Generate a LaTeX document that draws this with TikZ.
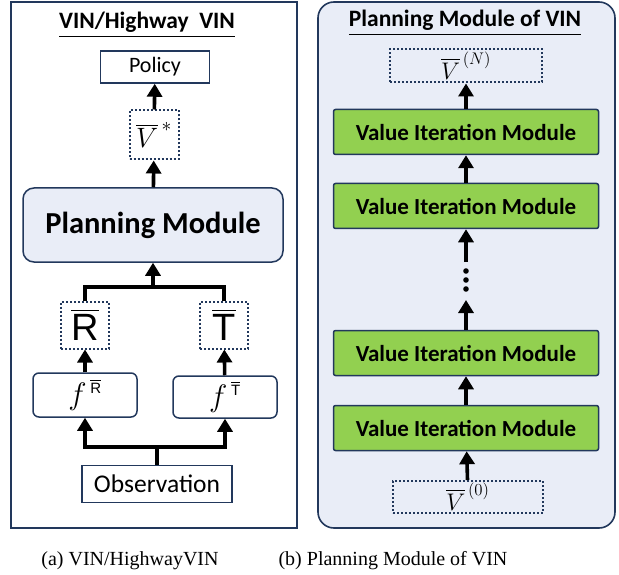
\RequirePackage{fix-cm}
\documentclass[tikz,border=0pt]{standalone}
\usepackage{amsmath}
\usepackage{fontspec}
\setmainfont{Carlito}
\setsansfont{Liberation Sans}
\newfontfamily\capfont{Liberation Serif}
\usetikzlibrary{arrows.meta}

\definecolor{navy}{RGB}{34,56,92}
\definecolor{panelbg}{RGB}{233,237,247}
\definecolor{vimgreen}{RGB}{146,208,80}

\newcommand{\supsf}[1]{\overline{\mbox{\fontsize{15}{15}\selectfont\sffamily #1}}}

\tikzset{
    plainbox/.style={draw=navy, line width=1.5pt, fill=white, inner sep=0pt},
    dotbox/.style={draw=navy, line width=2pt, dash pattern=on 2pt off 2pt, inner sep=0pt},
    fbox/.style={plainbox, rounded corners=6pt},
    vimbox/.style={draw=navy, line width=1.5pt, fill=vimgreen, rounded corners=2pt,
        minimum width=265pt, minimum height=45pt, inner sep=0pt,
        font=\fontsize{23}{25}\selectfont\bfseries},
    up/.style={line width=3.6pt, -{Triangle[width=15pt,length=13pt]}},
    link/.style={line width=3.6pt},
}

\begin{document}
\begin{tikzpicture}[x=1pt, y=-1pt]
    \useasboundingbox (0,0) rectangle (619,575);

    % left panel
    \draw[navy, line width=1.6pt] (11,2) rectangle (297,528);
    \node (ltitle) at (147,25) {\fontsize{23.5}{25}\selectfont\bfseries\underline{VIN/Highway\ \ VIN}};

    \node[plainbox, minimum width=109pt, minimum height=32pt, font=\fontsize{22}{24}\selectfont] (policy) at (155,67) {Policy};
    \node[dotbox, minimum width=49pt, minimum height=49pt] (vstar) at (154,135) {\fontsize{28}{30}\selectfont$\overline{V}^{\,*}$};
    \node[plainbox, rounded corners=11pt, fill=panelbg, minimum width=260pt, minimum height=74pt,
          font=\fontsize{30.5}{32}\selectfont\bfseries] (plan) at (153,225) {Planning Module};

    \node[dotbox, minimum width=48pt, minimum height=47pt] (rbar) at (85,325) {\fontsize{38}{40}\selectfont\sffamily$\overline{\mbox{R}}$};
    \node[dotbox, minimum width=48pt, minimum height=47pt] (tbar) at (224,325) {\fontsize{38}{40}\selectfont\sffamily$\overline{\mbox{T}}$};

    \node[fbox, minimum width=104pt, minimum height=44pt] (fr) at (85,395) {\fontsize{31}{33}\selectfont$f^{\,\supsf{R}}$};
    \node[fbox, minimum width=104pt, minimum height=42pt] (ft) at (225,397) {\fontsize{31}{33}\selectfont$f^{\,\supsf{T}}$};

    \node[plainbox, minimum width=150pt, minimum height=37pt, font=\fontsize{25.5}{27}\selectfont] (obs) at (157,484) {Observation};

    \coordinate (merge) at (153,287);
    \coordinate (split) at (157,447);

    \draw[up] (vstar) -- (policy);
    \draw[up] (plan) -- (vstar);
    \draw[link] (rbar.north) |- (merge) -| (tbar.north);
    \draw[up] (merge) -- (plan.south);
    \draw[up] (fr) -- (rbar);
    \draw[up] (ft) -- (tbar);
    \draw[link] (obs.north) -- (split);
    \draw[up] (split) -| (fr.south);
    \draw[up] (split) -| (ft.south);

    % right panel
    \draw[navy, line width=1.6pt, fill=panelbg, rounded corners=16pt] (318,2) rectangle (615,528);
    \node (rtitle) at (465,23) {\fontsize{23.5}{25}\selectfont\bfseries\underline{Planning Module of VIN}};

    \node[dotbox, minimum width=152pt, minimum height=33pt] (vn) at (466,66) {\fontsize{24}{26}\selectfont$\overline{V}^{\,(N)}$};
    \node[vimbox] (vim1) at (466,132) {Value Iteration Module};
    \node[vimbox] (vim2) at (466,206) {Value Iteration Module};
    \node[vimbox] (vim3) at (466,353) {Value Iteration Module};
    \node[vimbox] (vim4) at (466,428) {Value Iteration Module};
    \node[dotbox, minimum width=150pt, minimum height=32pt] (v0) at (468,497) {\fontsize{24}{26}\selectfont$\overline{V}^{\,(0)}$};

    \coordinate (dtop) at (466,262);
    \coordinate (dbot) at (466,300);
    \foreach \y in {271,280,289} {
        \fill (466,\y) circle (2.8pt);
    }

    \draw[up] (vim1) -- (vn);
    \draw[up] (vim2) -- (vim1);
    \draw[up] (dtop) -- (vim2);
    \draw[up] (vim3) -- (dbot);
    \draw[up] (vim4) -- (vim3);
    \draw[up] (v0) -- (vim4);

    % captions
    \node[font=\capfont\fontsize{20}{22}\selectfont] (capa) at (130,561) {(a) VIN/HighwayVIN};
    \node[font=\capfont\fontsize{20}{22}\selectfont] (capb) at (393,561) {(b) Planning Module of VIN};
\end{tikzpicture}
\end{document}
